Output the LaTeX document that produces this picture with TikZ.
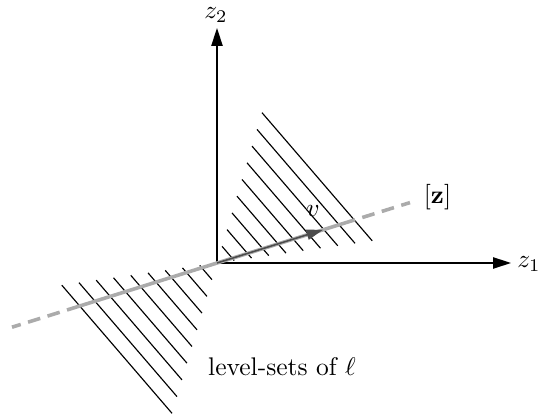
\documentclass[tikz,border=0pt]{standalone}
\usetikzlibrary{arrows.meta,calc}
\begin{document}
\begin{tikzpicture}[x=0.392pt,y=-0.392pt,
  axis/.style={line width=0.6pt,-{Triangle[length=7pt,width=4.4pt]}},
  hatch/.style={line width=0.45pt},
  zline/.style={line width=1.4pt,color=black!33},
  zdash/.style={zline,dash pattern=on 5pt off 3pt,dash phase=5pt},
  varrow/.style={line width=0.6pt,color=black!70,-{Triangle[length=6.5pt,width=4pt]}},
  lbl/.style={inner sep=0pt}]
\useasboundingbox (0,0) rectangle (538,417);
\coordinate (O) at (217,263);
\coordinate (Z1) at (511,263);
\coordinate (Z2) at (217,28);
\coordinate (La) at (67,310);
\coordinate (Lb) at (12,327.2);
\coordinate (Ra) at (355,219.8);
\coordinate (Rb) at (410,202.6);
\coordinate (V) at (323,229.8);
% hatch lines (level sets)
\foreach \j in {1,...,9} {
  \draw[hatch] ($(O)+(\j*5,-\j*16.7)$) -- ($(O)+(\j*17.25,-\j*2.46)$);
  \draw[hatch] ($(O)+(-\j*17.25,\j*2.46)$) -- ($(O)+(-\j*5,\j*16.7)$);
}
% axes
\draw[axis] (O) -- (Z1);
\draw[axis] (O) -- (Z2);
% line [z]
\draw[zline] (La) -- (Ra);
\draw[zdash] (Ra) -- (Rb);
\draw[zdash] (La) -- (Lb);
% vector v
\draw[varrow] (O) -- (V);
% labels
\node[lbl] (lz1) at (529,264) {$z_1$};
\node[lbl] (lz2) at (216,15) {$z_2$};
\node[lbl] (lz) at (437.5,197) {$[\mathbf{z}]$};
\node[lbl] (lv) at (313,211) {$v$};
\node[lbl,anchor=base] (lls) at (282,376) {level-sets of $\ell$};
\end{tikzpicture}
\end{document}
